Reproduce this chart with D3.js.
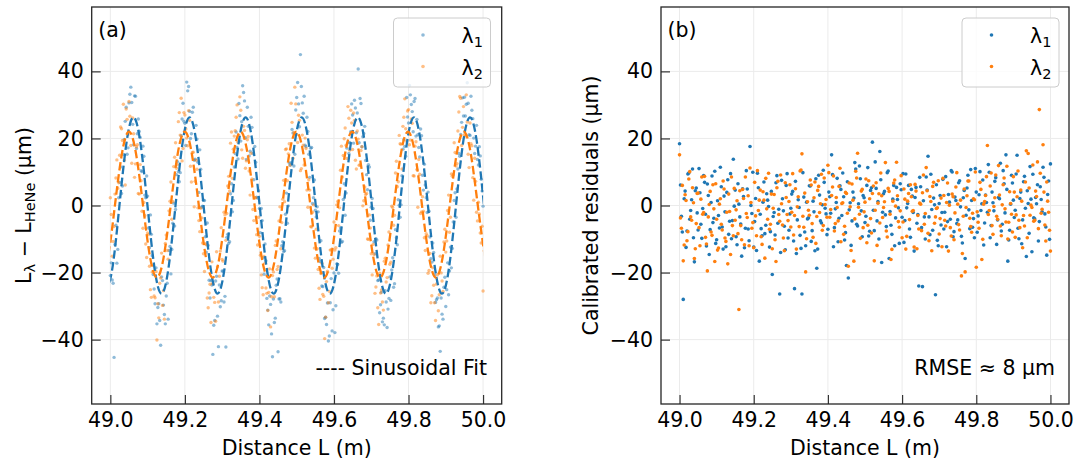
<!DOCTYPE html>
<html><head><meta charset="utf-8">
<script src="https://cdn.jsdelivr.net/npm/d3@7"></script>
<style>
body{margin:0;background:#fff}
svg text{font-family:"DejaVu Sans",sans-serif;fill:#000}
</style>
</head><body>
<svg id="c" width="1086" height="462"></svg>
<script>
// ---------- data ----------
const distance = [
49,49.005,49.01,49.015,49.02,49.025,49.03,49.035,49.04,49.045,
49.05,49.055,49.06,49.065,49.07,49.075,49.08,49.085,49.09,49.095,
49.1,49.105,49.11,49.115,49.12,49.125,49.13,49.135,49.14,49.145,
49.15,49.155,49.16,49.165,49.17,49.175,49.18,49.185,49.19,49.195,
49.2,49.205,49.21,49.215,49.22,49.225,49.23,49.235,49.24,49.245,
49.25,49.255,49.26,49.265,49.27,49.275,49.28,49.285,49.29,49.295,
49.3,49.305,49.31,49.315,49.32,49.325,49.33,49.335,49.34,49.345,
49.35,49.355,49.36,49.365,49.37,49.375,49.38,49.385,49.39,49.395,
49.4,49.405,49.41,49.415,49.42,49.425,49.43,49.435,49.44,49.445,
49.45,49.455,49.46,49.465,49.47,49.475,49.48,49.485,49.49,49.495,
49.5,49.505,49.51,49.515,49.52,49.525,49.53,49.535,49.54,49.545,
49.55,49.555,49.56,49.565,49.57,49.575,49.58,49.585,49.59,49.595,
49.6,49.605,49.61,49.615,49.62,49.625,49.63,49.635,49.64,49.645,
49.65,49.655,49.66,49.665,49.67,49.675,49.68,49.685,49.69,49.695,
49.7,49.705,49.71,49.715,49.72,49.725,49.73,49.735,49.74,49.745,
49.75,49.755,49.76,49.765,49.77,49.775,49.78,49.785,49.79,49.795,
49.8,49.805,49.81,49.815,49.82,49.825,49.83,49.835,49.84,49.845,
49.85,49.855,49.86,49.865,49.87,49.875,49.88,49.885,49.89,49.895,
49.9,49.905,49.91,49.915,49.92,49.925,49.93,49.935,49.94,49.945,
49.95,49.955,49.96,49.965,49.97,49.975,49.98,49.985,49.99,49.995,50];

const distanceB = [
49.0025,49.0075,49.0125,49.0175,49.0225,49.0275,49.0325,49.0375,49.0425,49.0475,
49.0525,49.0575,49.0625,49.0675,49.0725,49.0775,49.0825,49.0875,49.0925,49.0975,
49.1025,49.1075,49.1125,49.1175,49.1225,49.1275,49.1325,49.1375,49.1425,49.1475,
49.1525,49.1575,49.1625,49.1675,49.1725,49.1775,49.1825,49.1875,49.1925,49.1975,
49.2025,49.2075,49.2125,49.2175,49.2225,49.2275,49.2325,49.2375,49.2425,49.2475,
49.2525,49.2575,49.2625,49.2675,49.2725,49.2775,49.2825,49.2875,49.2925,49.2975,
49.3025,49.3075,49.3125,49.3175,49.3225,49.3275,49.3325,49.3375,49.3425,49.3475,
49.3525,49.3575,49.3625,49.3675,49.3725,49.3775,49.3825,49.3875,49.3925,49.3975,
49.4025,49.4075,49.4125,49.4175,49.4225,49.4275,49.4325,49.4375,49.4425,49.4475,
49.4525,49.4575,49.4625,49.4675,49.4725,49.4775,49.4825,49.4875,49.4925,49.4975,
49.5025,49.5075,49.5125,49.5175,49.5225,49.5275,49.5325,49.5375,49.5425,49.5475,
49.5525,49.5575,49.5625,49.5675,49.5725,49.5775,49.5825,49.5875,49.5925,49.5975,
49.6025,49.6075,49.6125,49.6175,49.6225,49.6275,49.6325,49.6375,49.6425,49.6475,
49.6525,49.6575,49.6625,49.6675,49.6725,49.6775,49.6825,49.6875,49.6925,49.6975,
49.7025,49.7075,49.7125,49.7175,49.7225,49.7275,49.7325,49.7375,49.7425,49.7475,
49.7525,49.7575,49.7625,49.7675,49.7725,49.7775,49.7825,49.7875,49.7925,49.7975,
49.8025,49.8075,49.8125,49.8175,49.8225,49.8275,49.8325,49.8375,49.8425,49.8475,
49.8525,49.8575,49.8625,49.8675,49.8725,49.8775,49.8825,49.8875,49.8925,49.8975,
49.9025,49.9075,49.9125,49.9175,49.9225,49.9275,49.9325,49.9375,49.9425,49.9475,
49.9525,49.9575,49.9625,49.9675,49.9725,49.9775,49.9825,49.9875,49.9925,49.9975];

// panel (a): L_lambda - L_HeNe (um), lambda1
const diffL1 = [
-20.9,-22.2,-45.3,-5.9,-13.1,6.9,3.6,15.2,25.1,15.3,
30.6,35.3,24.2,32.7,17.0,25.8,20.3,10.1,14.7,2.3,
2.8,-12.6,-8.6,-20.6,-29.3,-35.3,-29.3,-41.7,-22.4,-32.5,
-27.0,-33.9,-12.2,-13.1,0.7,-1.2,13.1,7.1,20.8,30.5,
24.5,36.8,35.5,20.0,27.8,13.5,23.9,12.9,16.6,-0.5,
1.6,-9.3,-5.2,-22.3,-22.4,-44.4,-34.3,-21.1,-42.1,-30.2,
-19.5,-28.8,-42.2,-8.6,-10.8,6.5,1.5,15.5,17.3,30.4,
19.2,35.7,31.2,13.7,23.6,16.2,23.3,7.7,12.9,2.2,
-0.9,-0.9,-15.6,-11.5,-27.7,-35.6,-29.5,-45.1,-34.9,-23.8,
-43.6,-27.8,-12.0,-13.7,-2.6,-5.3,12.7,12.8,21.6,15.3,
32.2,30.3,45.0,30.6,32.6,17.5,22.1,8.4,17.3,2.3,
-1.4,-0.4,-15.8,-10.5,-24.2,-33.7,-35.5,-40.4,-29.0,-37.4,
-20.1,-29.9,-17.6,-7.6,-11.0,1.8,-2.9,17.1,15.5,22.0,
27.0,31.4,21.7,40.7,31.9,17.5,21.5,13.4,4.7,11.5,
-0.5,-0.9,-14.4,-10.3,-22.2,-29.6,-34.7,-35.6,-28.8,-30.9,
-21.3,-19.2,-24.4,-7.2,-11.7,0.1,0.2,16.8,17.6,32.2,
24.6,33.0,28.0,31.0,20.7,21.1,14.5,20.8,4.6,6.1,
-2.1,-1.7,-15.9,-11.2,-20.7,-28.1,-36.2,-43.5,-32.4,-24.4,
-30.1,-17.1,-19.5,-18.6,-4.9,3.8,4.9,15.5,21.2,32.1,
32.3,30.2,30.5,20.9,28.4,20.1,17.7,13.7,17.5,7.8,-0.2];
const diffL1b = [
-17.1,-23.2,-11.6,-17.2,2.3,11.5,5.8,19.7,29.3,17.2,
33.2,30.7,18.1,32.6,21.4,22.1,10.4,17.7,3.1,8.8,
-6.7,-2.8,-15.0,-24.9,-18.6,-30.4,-34.3,-21.3,-29.7,-35.3,
-23.2,-13.4,-20.4,-5.3,-6.1,9.2,10.1,9.8,25.8,25.1,
17.9,34.2,28.1,21.4,29.3,13.8,19.8,3.9,10.8,-0.2,
1.5,-13.9,-11.9,-27.6,-23.7,-35.7,-22.5,-33.0,-23.7,-28.4,
-19.6,-27.1,-9.5,-11.3,3.5,-1.9,11.5,21.9,13.9,26.8,
25.0,33.7,20.2,29.3,14.8,26.3,15.5,17.6,2.5,4.4,
-8.1,-4.5,-20.5,-16.5,-31.2,-27.0,-38.3,-27.9,-33.6,-21.9,
-27.9,-28.8,-10.8,-13.5,3.7,-0.1,12.0,22.7,11.8,28.5,
36.7,23.5,35.5,27.5,18.0,26.3,15.3,17.1,0.6,7.6,
-3.4,-1.9,-16.7,-24.0,-18.5,-33.3,-29.1,-38.9,-21.8,-31.1,
-37.9,-17.4,-20.2,-6.7,-10.7,6.5,3.7,18.7,18.8,30.3,
18.6,29.1,27.6,18.7,30.4,20.5,23.6,9.2,12.2,-4.4,
2.1,-10.8,-9.9,-22.4,-32.0,-25.9,-33.6,-25.4,-36.4,-27.7,
-28.3,-15.6,-23.3,-9.6,1.7,-3.5,8.9,19.6,14.7,26.4,
35.8,30.1,22.0,31.9,25.7,17.3,22.8,9.0,12.3,2.3,
4.0,-9.4,-16.9,-14.0,-28.9,-27.6,-35.9,-27.6,-33.9,-21.4,
-25.1,-26.6,-12.4,-12.8,1.5,-3.5,10.9,14.7,24.8,26.7,
26.7,36.6,21.1,32.6,25.9,15.5,23.9,12.1,14.8,4.3];

// panel (a), lambda2
const diffL2 = [
2.3,-15.1,-6.3,8.2,5.1,15.0,22.9,30.2,6.1,25.7,
31.0,17.9,26.1,8.4,17.5,3.6,12.2,-1.7,0.9,-11.5,
-8.2,-18.1,-27.4,-17.9,-27.5,-40.1,-33.5,-21.6,-29.8,-33.9,
-8.8,-16.0,1.3,-4.1,11.6,18.7,12.2,27.7,32.0,17.0,
27.0,20.1,28.3,11.7,15.8,-0.4,13.5,-0.7,-7.8,-3.7,
-14.4,-11.4,-27.6,-26.1,-34.9,-23.2,-28.9,-13.8,-28.8,-13.6,
-16.1,-2.0,-10.4,5.8,4.3,21.9,16.8,22.3,30.0,20.9,
28.4,14.1,22.4,13.3,20.6,3.1,7.9,-4.5,2.3,-11.8,
-9.2,-20.7,-26.6,-17.2,-26.2,-25.9,-36.2,-20.9,-27.2,-10.6,
-18.2,-0.4,-5.1,7.5,16.7,7.4,18.4,30.5,14.1,35.3,
21.2,26.9,10.4,21.0,12.1,17.0,-0.5,4.6,-6.4,0.2,
-15.7,-12.9,-24.7,-20.3,-26.5,-39.7,-22.7,-29.0,-13.3,-18.7,
-4.9,-12.6,1.2,-0.7,17.7,14.9,23.1,14.0,26.0,28.4,
16.7,25.4,10.9,19.8,12.1,17.5,1.4,3.3,-10.0,-2.8,
-14.4,-11.6,-26.2,-21.0,-35.5,-26.1,-28.8,-16.6,-22.8,-11.8,
-17.5,-0.2,-5.9,9.7,5.6,20.9,18.3,23.6,31.8,19.2,
28.6,19.5,24.5,8.8,19.0,-0.5,9.3,-1.9,-1.7,-13.4,
-9.0,-19.4,-29.0,-18.6,-29.0,-23.4,-31.4,-15.1,-22.5,-10.9,
-13.9,-1.5,-8.0,9.4,9.2,15.8,12.5,27.9,32.0,23.3,
21.1,33.0,15.3,24.6,17.8,1.6,7.2,-4.6,-2.5,-11.2,-25.5];
const diffL2b = [
-2.7,-10.7,3.4,13.6,6.8,23.4,19.4,13.5,28.8,21.2,
26.6,12.6,21.4,12.4,18.1,3.4,7.4,-6.8,-3.0,-15.5,
-8.7,-25.1,-19.8,-27.0,-19.7,-29.3,-23.2,-14.2,-25.4,-11.3,
-13.4,-1.6,7.0,1.2,14.4,11.1,25.0,21.0,13.3,27.7,
22.8,17.8,25.4,7.0,15.9,7.2,10.8,-4.5,-0.8,-11.2,
-19.7,-11.7,-30.5,-23.5,-16.8,-27.4,-34.5,-18.3,-21.1,-6.6,
-16.6,-2.8,-2.4,8.7,18.6,8.1,20.7,26.3,18.9,32.4,
16.6,23.6,11.1,19.6,10.3,15.6,-1.2,2.3,-8.7,-3.5,
-14.8,-24.5,-15.2,-24.6,-31.3,-18.9,-27.2,-19.8,-11.9,-19.1,
-4.6,-12.9,1.9,1.1,16.9,15.4,12.1,24.8,21.8,30.3,
18.8,25.4,11.0,18.0,20.1,4.6,7.7,-6.3,-2.0,-12.7,
-7.1,-19.1,-28.0,-17.2,-27.1,-33.3,-19.6,-25.6,-13.2,-16.0,
-13.3,0.2,-6.0,10.5,8.5,19.9,18.0,29.5,16.5,24.6,
27.6,13.5,22.2,12.0,16.4,-0.1,5.5,3.6,-10.1,-6.7,
-20.7,-14.6,-24.3,-30.5,-20.2,-25.2,-31.2,-15.7,-21.5,-7.9,
-16.9,-0.6,-2.9,13.2,7.1,18.4,10.9,26.3,22.9,28.2,
18.1,25.8,8.9,17.7,10.7,13.7,-2.4,2.6,-9.6,-8.4,
-20.2,-14.3,-26.9,-23.8,-34.3,-20.7,-26.6,-20.1,-25.6,-7.1,
-10.6,3.1,-3.5,8.7,18.7,11.8,22.2,32.5,17.9,29.5,
20.7,24.9,11.3,18.4,8.3,14.1,-2.0,1.0,-8.2,-6.2];

// sinusoidal fits, read at eighth-period points
const fitX1 = [48.9868,49.0056,49.0244,49.0432,49.0620,49.0808,49.0996,49.1184,49.1373,49.1561,49.1749,49.1937,49.2125,49.2313,49.2501,49.2689,49.2878,49.3066,49.3254,49.3442,49.3630,49.3818,49.4006,49.4194,49.4383,49.4571,49.4759,49.4947,49.5135,49.5323,49.5511,49.5699,49.5888,49.6076,49.6264,49.6452,49.6640,49.6828,49.7016,49.7204,49.7393,49.7581,49.7769,49.7957,49.8145,49.8333,49.8521,49.8709,49.8898,49.9086,49.9274,49.9462,49.9650,49.9838,50.0026];
const fitY1 = [
-26.3,-18.6,0,18.6,26.3,18.6,0,-18.6,
-26.3,-18.6,0,18.6,26.3,18.6,0,-18.6,
-26.3,-18.6,0,18.6,26.3,18.6,0,-18.6,
-26.3,-18.6,0,18.6,26.3,18.6,0,-18.6,
-26.3,-18.6,0,18.6,26.3,18.6,0,-18.6,
-26.3,-18.6,0,18.6,26.3,18.6,0,-18.6,
-26.3,-18.6,0,18.6,26.3,18.6,0];
const fitX2 = [48.9752,48.9939,49.0126,49.0313,49.0500,49.0687,49.0874,49.1061,49.1249,49.1436,49.1623,49.1810,49.1997,49.2184,49.2371,49.2558,49.2746,49.2933,49.3120,49.3307,49.3494,49.3681,49.3868,49.4055,49.4243,49.4430,49.4617,49.4804,49.4991,49.5178,49.5365,49.5552,49.5740,49.5927,49.6114,49.6301,49.6488,49.6675,49.6862,49.7049,49.7237,49.7424,49.7611,49.7798,49.7985,49.8172,49.8359,49.8546,49.8734,49.8921,49.9108,49.9295,49.9482,49.9669,49.9856,50.0043];
const fitY2 = [
-21.5,-15.1,0.3,15.6,22.0,15.6,0.3,-15.1,
-21.5,-15.1,0.3,15.6,22.0,15.6,0.3,-15.1,
-21.5,-15.1,0.3,15.6,22.0,15.6,0.3,-15.1,
-21.5,-15.1,0.3,15.6,22.0,15.6,0.3,-15.1,
-21.5,-15.1,0.3,15.6,22.0,15.6,0.3,-15.1,
-21.5,-15.1,0.3,15.6,22.0,15.6,0.3,-15.1,
-21.5,-15.1,0.3,15.6,22.0,15.6,0.3,-15.1];

// panel (b): calibrated residuals (um), lambda1
const resid1 = [
18.4,-3.2,-28.0,4.3,-7.6,9.7,-1.5,10.9,-16.8,5.2,
-7.3,3.8,-9.8,8.9,-2.6,6.4,-14.6,0.9,-5.1,10.2,
-10.2,-3.0,11.4,-6.4,2.8,-12.3,7.7,-4.7,-9.9,13.8,
4.6,-11.7,0.4,-5.5,5.0,-12.6,10.4,-7.0,17.6,-2.4,
-12.4,2.1,9.6,-16.6,-6.9,1.0,-8.4,3.5,-0.3,-7.8,
-20.6,-2.1,6.8,-5.3,-26.4,7.5,-1.6,-13.2,9.5,-7.4,
-0.8,4.2,-24.8,-14.3,1.7,-8.9,-26.4,2.5,-12.0,-4.0,
5.9,-10.7,1.3,-13.5,-18.7,9.0,-4.6,0.2,6.9,-2.5,
-7.1,2.6,15.1,-12.3,-1.0,8.1,-3.8,4.8,9.7,-10.3,
-17.9,-21.6,0.8,-4.6,2.2,10.9,-6.1,11.8,-1.6,3.0,
-5.1,6.0,-9.1,4.5,18.9,-7.5,5.1,1.2,16.1,-17.0,
3.5,-2.8,9.8,-15.8,-5.9,1.9,-12.0,5.4,-0.7,6.5,
-3.5,-11.0,9.4,0.6,-7.0,4.8,-2.1,2.4,-5.3,-24.0,
5.6,-24.2,-3.4,8.5,14.7,-8.7,-1.2,2.2,-26.6,-10.4,
0.6,-5.8,7.8,-2.0,-12.3,3.3,-4.1,10.0,-7.8,1.5,
-4.3,7.4,-9.2,2.3,-15.8,5.2,-1.3,10.7,-6.5,-9.6,
4.0,-3.1,10.1,0.5,-11.8,3.1,-2.0,9.9,-6.0,0.8,
7.2,-11.6,2.4,12.6,-5.6,6.5,15.1,-16.6,-7.4,9.0,
1.6,-1.4,15.0,-9.9,4.0,-4.3,8.7,-15.2,0.6,11.6,
-13.8,-3.7,2.4,6.2,-4.8,1.8,11.4,-2.5,-14.8,7.3,12.4];
const resid1b = [
6.1,-7.9,2.0,-12.5,9.4,-4.1,1.7,-9.6,4.4,-2.2,
11.0,-5.6,-0.9,6.9,-12.1,3.0,-7.2,8.8,-3.8,-11.3,
1.4,-6.7,5.6,-13.0,-1.9,3.9,-8.6,9.5,-4.5,-0.2,
-9.3,6.5,-3.4,-15.1,2.7,-6.8,4.9,-10.5,0.0,9.9,
-4.8,-13.4,5.3,-2.6,-9.0,7.0,-5.9,1.6,-12.4,4.2,
-3.3,-8.8,8.9,-1.1,-14.0,2.0,-6.2,6.0,-9.7,-2.5,
3.4,-10.6,7.2,-4.3,-0.6,-12.8,9.8,-7.9,1.0,-3.7,
5.8,-7.5,-1.9,8.0,-13.0,3.1,-5.2,10.5,-0.8,-8.7,
4.0,-2.3,9.2,-6.6,0.9,-10.8,5.9,-3.0,2.6,-8.1,
7.1,-1.3,-11.9,4.0,12.8,-5.6,0.5,8.0,-9.3,2.3,
-3.2,11.3,-7.7,5.3,-1.4,13.0,-4.6,-10.0,7.7,-2.0,
4.2,-6.3,10.3,-1.8,-8.6,6.0,-3.7,1.8,-11.3,4.7,
9.5,-4.5,-0.7,6.0,-9.5,2.8,-13.6,5.4,-2.7,8.4,
-6.6,1.4,-10.0,4.6,-3.4,9.3,-7.4,0.2,6.2,-12.0,
3.0,-2.1,-7.0,8.6,-4.8,1.0,10.4,-9.3,2.5,-5.4,
6.8,-0.4,-11.2,4.5,-2.9,9.0,-6.9,1.5,-3.9,11.0,
-8.0,3.2,-1.5,7.6,-5.2,0.9,12.2,-9.6,4.0,-1.6,
8.3,-4.3,2.0,-7.6,10.4,-2.2,4.8,-10.3,0.4,6.7,
-3.6,9.4,-6.8,2.1,-11.4,7.1,-0.8,4.4,-8.3,1.9,
9.3,-4.0,0.5,-10.6,5.6,-1.9,8.4,-6.4,3.3,-10.1];

// panel (b), lambda2
const resid2 = [
15.1,-6.8,-16.5,3.2,-10.5,7.9,-3.4,5.3,-15.8,-5.4,
3.7,-12.0,8.5,-2.1,-9.5,-19.5,0.3,-7.9,6.2,-16.7,
-4.1,-12.7,2.0,-7.3,4.9,-10.7,-17.4,-1.8,8.5,-9.0,
-4.4,1.4,-31.0,-6.0,4.8,-11.7,-2.4,2.9,11.2,-6.8,
-12.6,-3.1,10.4,1.6,-9.3,4.1,-15.7,-1.0,9.6,-5.6,
-12.9,3.3,-16.7,7.2,-4.7,0.5,-9.7,6.8,-2.7,1.2,
-6.4,9.5,-3.0,-13.0,2.6,10.3,15.4,-6.5,-19.8,1.1,
-2.9,6.1,-9.5,7.0,-3.3,5.7,0.5,-7.4,8.2,1.8,
12.0,-3.5,3.0,8.8,-5.4,-0.6,5.7,-10.8,0.8,-6.2,
3.6,-18.1,-0.4,6.4,-16.6,10.2,15.6,-2.6,4.3,-6.6,
1.0,-11.1,7.4,-3.9,3.6,-16.5,6.8,0.7,-5.2,2.9,
-0.6,12.8,-9.4,4.2,-16.1,1.3,7.6,12.9,-4.8,-1.6,
-9.6,4.9,-13.0,1.3,-4.2,2.6,-1.5,6.3,-12.9,-7.0,
0.4,3.8,-5.6,11.3,-8.3,2.7,-13.5,6.9,-3.4,-0.7,
-8.5,2.2,8.1,-4.4,0.9,-13.6,-6.6,3.4,-10.2,5.5,
0.4,-7.3,-21.0,-3.2,-19.8,2.9,7.3,-6.3,-2.3,1.7,
-18.4,-5.0,6.9,-16.1,0.4,3.0,17.9,-1.5,9.7,-8.6,
2.3,-3.2,11.9,-6.1,0.2,8.2,-4.9,-10.0,4.1,-2.6,
8.6,-9.5,2.6,-4.4,4.6,-12.6,-6.1,16.3,15.5,-2.9,
-0.6,-4.7,4.3,13.0,28.6,-2.3,18.1,-5.8,7.0,-2.0,-13.6];
const resid2b = [
-3.7,6.0,-11.8,1.5,-7.8,10.1,-4.4,0.8,-12.9,3.6,
-6.6,1.9,-2.6,8.7,-11.5,-3.4,4.2,-8.9,-1.0,6.5,
-13.3,0.4,-5.6,7.3,-9.7,-2.0,3.4,-14.6,-6.0,5.1,
-1.3,-8.4,4.4,-10.2,2.1,8.5,-3.6,-12.0,0.9,-5.1,
6.9,-9.0,-1.5,4.6,-11.6,1.6,8.1,-4.1,-7.1,3.4,
-0.8,-10.2,5.3,-2.7,9.1,-5.8,-13.5,2.4,-4.5,6.2,
-2.0,-8.8,5.0,-0.4,-6.3,10.6,-3.2,3.7,-9.9,-1.4,
7.6,-5.4,2.3,-11.3,4.5,-2.1,9.3,-6.0,0.3,-3.5,
9.8,-1.2,5.5,-7.6,2.4,-4.6,11.1,0.6,-8.6,3.9,
-2.3,6.7,-13.4,1.6,-4.0,8.2,-0.5,-9.8,4.8,-1.9,
7.9,-5.9,2.0,-8.2,5.8,-1.4,-11.9,3.5,9.7,-3.6,
1.1,-7.6,5.1,-2.6,-13.1,6.7,-0.2,2.9,-6.5,8.9,
-4.9,1.9,-9.2,3.6,6.2,-1.7,-12.4,4.3,-3.0,0.7,
-7.5,9.1,-2.4,4.4,-10.5,1.2,5.7,-5.3,-0.9,7.4,
-3.9,-12.3,3.0,-6.1,6.7,0.1,-9.1,2.6,-2.2,9.8,
-5.7,1.6,-14.3,4.9,-0.6,7.3,-3.8,-8.0,2.0,10.0,
-1.9,-6.8,4.8,-10.1,1.2,8.6,-2.7,5.8,-6.0,-0.3,
9.1,-4.1,3.1,-9.0,6.2,-1.0,11.7,-5.0,0.6,-7.9,
4.0,-2.8,10.3,-6.6,1.3,-3.0,7.0,-9.6,5.2,0.1,
12.1,-4.4,2.7,-6.9,9.6,-1.1,4.0,-10.6,1.3,-7.4];

const xTicks = [49.0,49.2,49.4,49.6,49.8,50.0];
const yTicks = [-40,-20,0,20,40];
const xDomain = [48.95,50.05];
const yDomain = [-59.2,59.2];

// ---------- drawing ----------
const C1 = "#1f77b4", C2 = "#ff7f0e";
const FS = 20.5;
const svg = d3.select("#c");
const T = 7, B = 404;

function makePanel(o){
  const x = d3.scaleLinear().domain(xDomain).range([o.l, o.r]);
  const y = d3.scaleLinear().domain(yDomain).range([B, T]);
  const g = svg.append("g");
  const clipId = "clip" + o.tag;
  svg.append("defs").append("clipPath").attr("id", clipId)
    .append("rect").attr("x", o.l).attr("y", T).attr("width", o.r - o.l).attr("height", B - T);
  g.append("g").selectAll("line").data(xTicks).join("line")
    .attr("x1", d => x(d)).attr("x2", d => x(d)).attr("y1", T).attr("y2", B)
    .attr("stroke", "#ebebeb").attr("stroke-width", 1);
  g.append("g").selectAll("line").data(yTicks).join("line")
    .attr("y1", d => y(d)).attr("y2", d => y(d)).attr("x1", o.l).attr("x2", o.r)
    .attr("stroke", "#ebebeb").attr("stroke-width", 1);
  const plot = g.append("g").attr("clip-path", `url(#${clipId})`);
  return {x, y, g, plot};
}

function scatter(p, xs, ys, color, op, r){
  p.plot.append("g").selectAll("circle").data(xs).join("circle")
    .attr("cx", d => p.x(d)).attr("cy", (d, i) => p.y(ys[i])).attr("r", r)
    .attr("fill", color).attr("fill-opacity", op);
}

function finishPanel(p, o){
  const {x, y, g} = p;
  const ax = g.append("g").attr("transform", `translate(0,${B})`)
    .call(d3.axisBottom(x).tickValues(xTicks).tickFormat(d3.format(".1f"))
      .tickSizeInner(-9).tickSizeOuter(0).tickPadding(8));
  const ay = g.append("g").attr("transform", `translate(${o.l},0)`)
    .call(d3.axisLeft(y).tickValues(yTicks).tickFormat(d3.format("d"))
      .tickSizeInner(-9).tickSizeOuter(0).tickPadding(8));
  [ax, ay].forEach(a => {
    a.select(".domain").remove();
    a.selectAll("line").attr("stroke", "#333").attr("stroke-width", 1.2);
    a.selectAll("text").attr("font-size", FS).attr("font-family", "DejaVu Sans").attr("fill", "#000");
  });
  g.append("rect").attr("x", o.l).attr("y", T).attr("width", o.r - o.l).attr("height", B - T)
    .attr("fill", "none").attr("stroke", "#262626").attr("stroke-width", 1.3);
  g.append("text").attr("x", (o.l + o.r) / 2).attr("y", 455).attr("text-anchor", "middle")
    .attr("font-size", FS).text("Distance L (m)");
  g.append("text").attr("x", o.l + 6.5).attr("y", 37).attr("font-size", FS).text(o.letter);
  const lg = g.append("g");
  lg.append("rect").attr("x", o.legX).attr("y", 18).attr("width", 97).attr("height", 69).attr("rx", 4)
    .attr("fill", "#fff").attr("fill-opacity", 0.8).attr("stroke", "#cccccc").attr("stroke-width", 1);
  [[C1, "1", 35, 43], [C2, "2", 66.5, 75]].forEach(([c, s, cy, by]) => {
    lg.append("circle").attr("cx", o.legX + 29.5).attr("cy", cy).attr("r", 1.8)
      .attr("fill", c).attr("fill-opacity", o.alpha);
    const t = lg.append("text").attr("x", o.legX + 68).attr("y", by).attr("font-size", FS);
    t.append("tspan").text("λ");
    t.append("tspan").attr("font-size", 14.5).attr("dy", 4).text(s);
  });
}

// ---- panel (a) ----
const oa = {l: 91.7, r: 501.7, tag: "a", letter: "(a)", legX: 393.5, alpha: 0.5};
const pa = makePanel(oa);
scatter(pa, distance, diffL1, C1, 0.5, 1.7);
scatter(pa, distanceB, diffL1b, C1, 0.5, 1.7);
scatter(pa, distance, diffL2, C2, 0.5, 1.7);
scatter(pa, distanceB, diffL2b, C2, 0.5, 1.7);
svg.append("defs").append("clipPath").attr("id", "clipfit")
  .append("rect").attr("x", pa.x(49)).attr("y", T).attr("width", pa.x(50) - pa.x(49)).attr("height", B - T);
const fitLine = d3.line().x(d => pa.x(d[0])).y(d => pa.y(d[1])).curve(d3.curveNatural);
const fg = pa.plot.append("g").attr("clip-path", "url(#clipfit)");
fg.append("path").attr("d", fitLine(fitX1.map((v, i) => [v, fitY1[i]])))
  .attr("fill", "none").attr("stroke", C1).attr("stroke-width", 2.3).attr("stroke-dasharray", "8.5,3.6");
fg.append("path").attr("d", fitLine(fitX2.map((v, i) => [v, fitY2[i]])))
  .attr("fill", "none").attr("stroke", C2).attr("stroke-width", 2.3).attr("stroke-dasharray", "8.5,3.6");
finishPanel(pa, oa);
pa.g.append("text").attr("x", 487).attr("y", 375).attr("text-anchor", "end").attr("font-size", FS)
  .text("---- Sinusoidal Fit");
{
  const t = svg.append("text").attr("transform", `translate(31,${(T + B) / 2}) rotate(-90)`)
    .attr("text-anchor", "middle").attr("font-size", FS);
  t.append("tspan").text("L");
  t.append("tspan").attr("font-size", 14.5).attr("dy", 4).text("λ");
  t.append("tspan").attr("dy", -4).text(" − L");
  t.append("tspan").attr("font-size", 14.5).attr("dy", 4).text("HeNe");
  t.append("tspan").attr("dy", -4).text(" (μm)");
}

// ---- panel (b) ----
const ob = {l: 661, r: 1069, tag: "b", letter: "(b)", legX: 962, alpha: 1};
const pb = makePanel(ob);
scatter(pb, distance, resid1, C1, 1, 1.8);
scatter(pb, distanceB, resid1b, C1, 1, 1.8);
scatter(pb, distance, resid2, C2, 1, 1.8);
scatter(pb, distanceB, resid2b, C2, 1, 1.8);
finishPanel(pb, ob);
pb.g.append("text").attr("x", 1055).attr("y", 375).attr("text-anchor", "end").attr("font-size", FS)
  .text("RMSE ≈ 8 μm");
svg.append("text").attr("transform", `translate(598,${(T + B) / 2}) rotate(-90)`)
  .attr("text-anchor", "middle").attr("font-size", FS).text("Calibrated residuals (μm)");
</script>
</body></html>
